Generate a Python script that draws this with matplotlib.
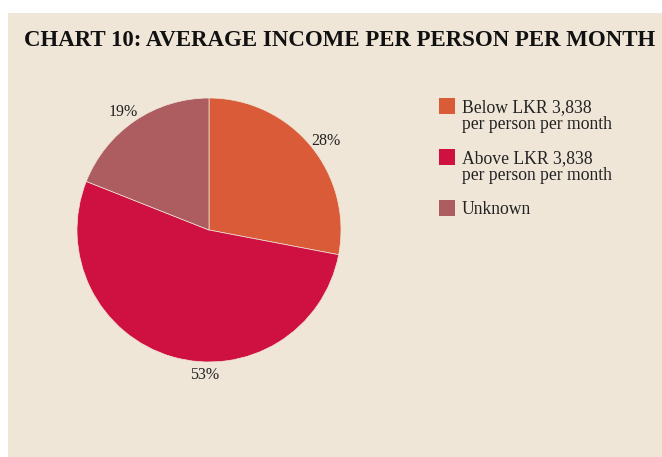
import numpy as np
import matplotlib.pyplot as plt
from matplotlib.patches import Rectangle

# Data
categories = ["Below LKR 3,838\nper person per month",
              "Above LKR 3,838\nper person per month",
              "Unknown"]
shares = [28, 53, 19]
colors = ["#d95b37", "#cf1142", "#ad5c5f"]

bg = "#f0e6d8"
W, H = 662, 457

plt.rcParams["font.family"] = ["Liberation Serif", "DejaVu Serif"]

fig = plt.figure(figsize=(W / 100, H / 100), dpi=100)
fig.patch.set_facecolor("white")
# beige panel
fig.patches.append(Rectangle((8 / W, 0), 1 - 8 / W, (H - 13) / H,
                             transform=fig.transFigure, facecolor=bg,
                             edgecolor="none", zorder=-5))

fig.text(24 / W, 1 - 46 / H, "CHART 10: AVERAGE INCOME PER PERSON PER MONTH",
         fontsize=16.5, fontweight="bold", color="#111111", ha="left", va="baseline")

# Pie
cx, cy, r = 209, 230, 132
ax = fig.add_axes([(cx - r) / W, (H - cy - r) / H, 2 * r / W, 2 * r / H])
ax.set_facecolor("none")
wedges, texts, autotexts = ax.pie(shares, colors=colors, startangle=90, counterclock=False,
                                  autopct=lambda p: "%d%%" % round(p), pctdistance=1.15,
                                  wedgeprops=dict(linewidth=0.5, edgecolor=bg),
                                  textprops=dict(fontsize=11.5, color="#222222"))
ax.set_xlim(-1, 1)
ax.set_ylim(-1, 1)
ax.set_aspect("equal")
ax.axis("off")
for t in autotexts:
    t.set_clip_on(False)
    t.set_va("top")
# 53% label sits near the bottom in the original
autotexts[1].set_position((-0.03, -1.1))
autotexts[1].set_va("center")

# Legend (drawn by hand so the swatch lines up with the first text line)
y = 112
for lab, col in zip(categories, colors):
    fig.patches.append(Rectangle((439 / W, 1 - (y + 2) / H), 15.5 / W, 15.5 / H,
                                 transform=fig.transFigure, facecolor=col,
                                 edgecolor="none"))
    for line in lab.split("\n"):
        fig.text(462 / W, 1 - y / H, line, fontsize=12.7, color="#222222",
                 ha="left", va="baseline")
        y += 17
    y += 17

fig.savefig("out.png", dpi=100, facecolor=fig.get_facecolor())
